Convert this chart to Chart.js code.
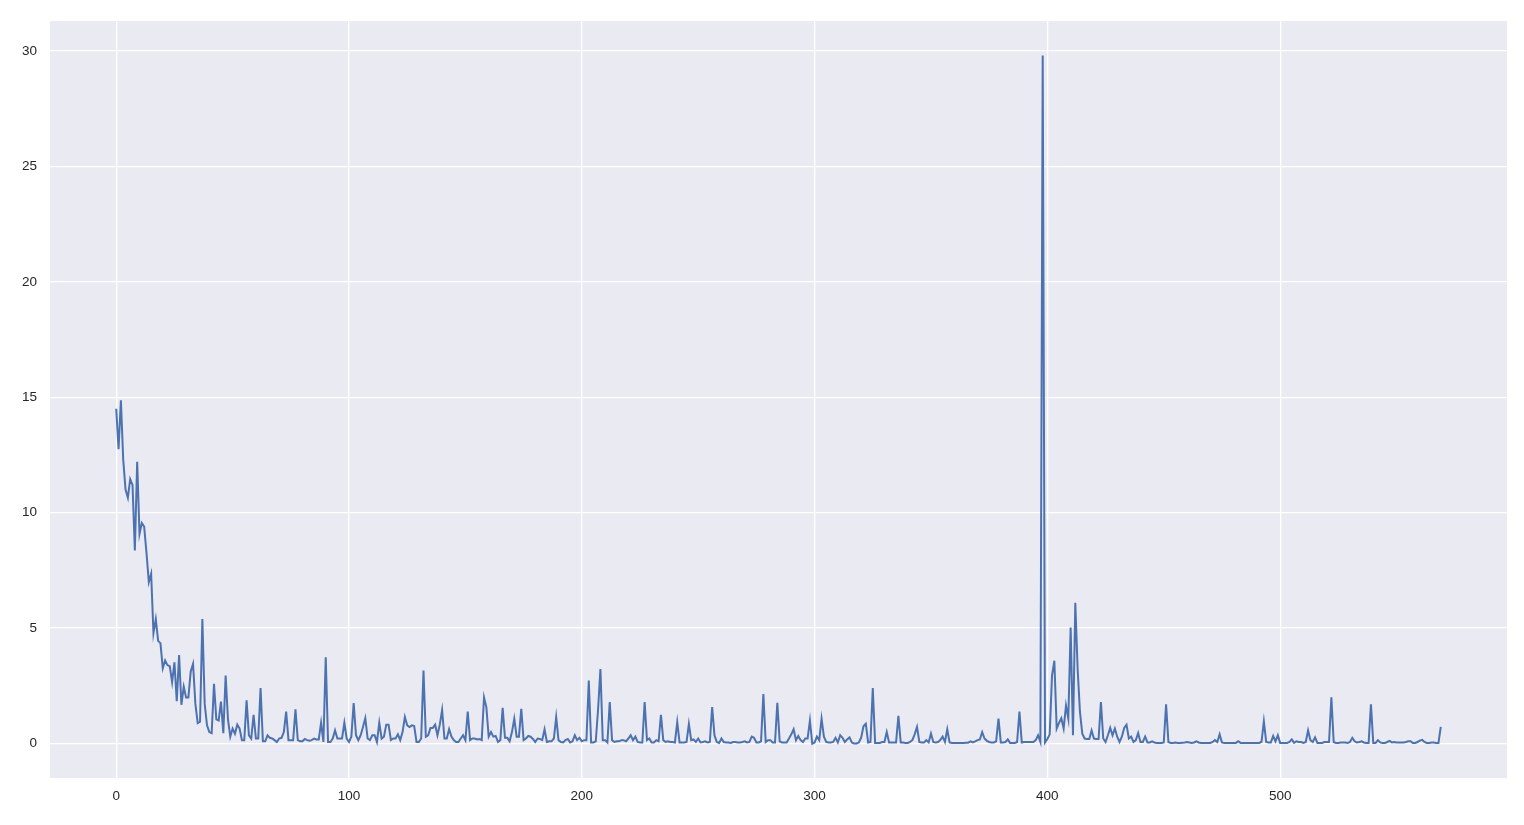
<!DOCTYPE html>
<html>
<head>
<meta charset="utf-8">
<script src="https://cdn.jsdelivr.net/npm/chart.js@4.4.0/dist/chart.umd.min.js"></script>
<style>
  html, body { margin: 0; padding: 0; background: #ffffff; }
  #wrap { width: 1524px; height: 825px; }
</style>
</head>
<body>
<div id="wrap"><canvas id="chart" width="1524" height="825"></canvas></div>
<script>
// valores, um por passo (0..569)
const serieValores = [
  14.5, 12.75, 14.87, 12.3, 11.0, 10.65, 11.45, 11.2, 8.36, 12.2,
  9.08, 9.55, 9.4, 8.26, 7.0, 7.36, 4.78, 5.39, 4.45, 4.35,
  3.26, 3.6, 3.4, 3.35, 2.66, 3.52, 1.84, 3.84, 1.68, 2.47,
  2.0, 2.0, 3.12, 3.45, 1.72, 0.89, 0.95, 5.39, 1.72, 0.79,
  0.5, 0.45, 2.59, 1.05, 1.0, 1.82, 0.45, 2.95, 1.05, 0.3,
  0.65, 0.43, 0.82, 0.65, 0.15, 0.15, 1.87, 0.36, 0.22, 1.25,
  0.22, 0.22, 2.41, 0.1, 0.1, 0.36, 0.25, 0.22, 0.15, 0.07,
  0.22, 0.25, 0.5, 1.39, 0.15, 0.15, 0.15, 1.48, 0.15, 0.1,
  0.1, 0.2, 0.15, 0.12, 0.15, 0.22, 0.18, 0.18, 0.9, 0.07,
  3.74, 0.07, 0.07, 0.22, 0.57, 0.22, 0.22, 0.22, 0.9, 0.22,
  0.07, 0.3, 1.75, 0.36, 0.15, 0.36, 0.72, 1.1, 0.22, 0.15,
  0.36, 0.36, 0.07, 0.9, 0.22, 0.3, 0.82, 0.82, 0.15, 0.22,
  0.22, 0.4, 0.15, 0.5, 1.15, 0.79, 0.72, 0.79, 0.76, 0.07,
  0.07, 0.22, 3.16, 0.3, 0.36, 0.68, 0.68, 0.82, 0.36, 0.82,
  1.46, 0.22, 0.22, 0.62, 0.3, 0.15, 0.07, 0.07, 0.22, 0.36,
  0.15, 1.39, 0.15, 0.22, 0.22, 0.18, 0.2, 0.15, 2.0, 1.58,
  0.3, 0.5, 0.3, 0.33, 0.07, 0.15, 1.55, 0.25, 0.25, 0.1,
  0.5, 1.08, 0.3, 0.3, 1.51, 0.15, 0.22, 0.33, 0.3, 0.2,
  0.07, 0.22, 0.2, 0.15, 0.62, 0.07, 0.1, 0.1, 0.22, 1.15,
  0.15, 0.07, 0.05, 0.15, 0.2, 0.05, 0.1, 0.36, 0.15, 0.25,
  0.1, 0.15, 0.15, 2.73, 0.05, 0.05, 0.1, 1.5, 3.23, 0.15,
  0.15, 0.05, 1.8, 0.15, 0.07, 0.1, 0.1, 0.15, 0.15, 0.1,
  0.22, 0.36, 0.15, 0.3, 0.07, 0.05, 0.05, 1.8, 0.15, 0.22,
  0.05, 0.05, 0.15, 0.1, 1.25, 0.15, 0.07, 0.1, 0.07, 0.07,
  0.05, 0.93, 0.05, 0.05, 0.05, 0.07, 0.85, 0.15, 0.18, 0.07,
  0.22, 0.05, 0.07, 0.1, 0.05, 0.07, 1.58, 0.36, 0.07, 0.03,
  0.22, 0.07, 0.05, 0.05, 0.03, 0.07, 0.07, 0.05, 0.05, 0.07,
  0.1, 0.05, 0.07, 0.3, 0.25, 0.05, 0.05, 0.1, 2.15, 0.07,
  0.15, 0.15, 0.05, 0.05, 1.77, 0.1, 0.05, 0.05, 0.05, 0.22,
  0.4, 0.62, 0.15, 0.33, 0.15, 0.07, 0.22, 0.22, 1.0, 0.0,
  0.05, 0.3, 0.15, 1.08, 0.3, 0.07, 0.05, 0.05, 0.07, 0.25,
  0.05, 0.36, 0.25, 0.07, 0.18, 0.27, 0.05, 0.0, 0.0, 0.05,
  0.25, 0.75, 0.86, 0.05, 0.07, 2.41, 0.03, 0.03, 0.03, 0.07,
  0.07, 0.5, 0.05, 0.05, 0.05, 0.05, 1.2, 0.05, 0.05, 0.03,
  0.03, 0.07, 0.15, 0.4, 0.72, 0.07, 0.05, 0.05, 0.15, 0.05,
  0.43, 0.07, 0.05, 0.07, 0.15, 0.3, 0.07, 0.62, 0.05, 0.03,
  0.03, 0.03, 0.03, 0.03, 0.03, 0.04, 0.04, 0.1, 0.05, 0.1,
  0.15, 0.18, 0.5, 0.22, 0.12, 0.07, 0.05, 0.05, 0.1, 1.08,
  0.05, 0.05, 0.07, 0.18, 0.03, 0.03, 0.03, 0.07, 1.39, 0.05,
  0.07, 0.07, 0.07, 0.07, 0.07, 0.15, 0.36, 0.07, 29.8, 0.05,
  0.2, 0.4, 2.94, 3.59, 0.65, 0.9, 1.1, 0.65, 1.65, 1.08,
  5.03, 0.36, 6.1, 3.23, 1.37, 0.43, 0.22, 0.2, 0.2, 0.57,
  0.22, 0.2, 0.2, 1.8, 0.22, 0.07, 0.36, 0.68, 0.36, 0.65,
  0.3, 0.07, 0.3, 0.68, 0.82, 0.22, 0.3, 0.07, 0.15, 0.46,
  0.07, 0.07, 0.3, 0.05, 0.05, 0.1, 0.05, 0.03, 0.03, 0.03,
  0.05, 1.7, 0.07, 0.03, 0.03, 0.05, 0.03, 0.03, 0.04, 0.05,
  0.07, 0.05, 0.03, 0.05, 0.1, 0.05, 0.03, 0.03, 0.03, 0.03,
  0.03, 0.07, 0.15, 0.07, 0.4, 0.05, 0.03, 0.03, 0.03, 0.03,
  0.03, 0.03, 0.1, 0.03, 0.03, 0.03, 0.03, 0.03, 0.03, 0.03,
  0.03, 0.03, 0.08, 0.96, 0.07, 0.05, 0.05, 0.33, 0.1, 0.36,
  0.03, 0.03, 0.03, 0.03, 0.07, 0.18, 0.03, 0.1, 0.07, 0.07,
  0.03, 0.07, 0.57, 0.15, 0.07, 0.27, 0.03, 0.03, 0.03, 0.07,
  0.07, 0.07, 2.01, 0.07, 0.03, 0.03, 0.05, 0.05, 0.05, 0.03,
  0.07, 0.25, 0.1, 0.05, 0.07, 0.1, 0.05, 0.03, 0.03, 1.7,
  0.03, 0.03, 0.15, 0.05, 0.03, 0.03, 0.07, 0.12, 0.05, 0.07,
  0.05, 0.05, 0.05, 0.05, 0.07, 0.1, 0.1, 0.03, 0.03, 0.07,
  0.13, 0.16, 0.07, 0.03, 0.03, 0.05, 0.05, 0.03, 0.03, 0.72
];

// rótulos dos eixos
const ticksX = [0, 100, 200, 300, 400, 500];
const ticksY = [0, 5, 10, 15, 20, 25, 30];

const COR_LINHA = '#4c72b0';
const COR_FUNDO = '#eaeaf2';
const COR_TEXTO = '#262626';

// pinta o fundo cinza só dentro da área do gráfico
const fundoPlugin = {
    id: 'fundo',
    beforeDraw(chart) {
        const { ctx, chartArea } = chart;
        ctx.save();
        ctx.fillStyle = COR_FUNDO;
        ctx.fillRect(chartArea.left, chartArea.top, chartArea.right - chartArea.left, chartArea.bottom - chartArea.top);
        ctx.restore();
    }
};

const pontos = serieValores.map((v, i) => ({ x: i, y: v }));
const n = serieValores.length - 1;
const ymax = Math.max(...serieValores);

new Chart(document.getElementById('chart'), {
    type: 'line',
    data: {
        datasets: [{
            data: pontos,
            borderColor: COR_LINHA,
            borderWidth: 2,
            pointRadius: 0,
            tension: 0,
            fill: false
        }]
    },
    options: {
        responsive: false,
        animation: false,
        layout: { autoPadding: false, padding: { top: 18, right: 17, left: 0, bottom: 0 } },
        plugins: { legend: { display: false }, tooltip: { enabled: false } },
        scales: {
            x: {
                type: 'linear',
                min: -0.05 * n,
                max: n * 1.05,
                afterBuildTicks: s => { s.ticks = ticksX.map(v => ({ value: v })); },
                afterFit: s => { s.height = 47; },
                grid: { color: '#ffffff', lineWidth: 1.3, drawTicks: false },
                border: { display: false },
                ticks: { color: COR_TEXTO, padding: 10, font: { family: 'Liberation Sans', size: 13.5 } }
            },
            y: {
                type: 'linear',
                min: -0.05 * ymax,
                max: ymax * 1.05,
                afterBuildTicks: s => { s.ticks = ticksY.map(v => ({ value: v })); },
                afterFit: s => { s.width = 50; },
                grid: { color: '#ffffff', lineWidth: 1.3, drawTicks: false },
                border: { display: false },
                ticks: { color: COR_TEXTO, padding: 13, font: { family: 'Liberation Sans', size: 13.5 } }
            }
        }
    },
    plugins: [fundoPlugin]
});
</script>
</body>
</html>
